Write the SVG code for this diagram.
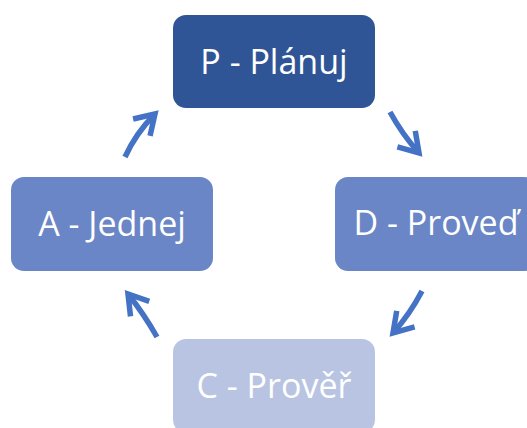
<svg xmlns="http://www.w3.org/2000/svg" width="527" height="428" viewBox="0 0 527 428">
  <style>
    .box { stroke: none; }
    .lbl { font-family: "Open Sans", "Noto Sans", sans-serif; font-size: 34px; fill: #ffffff; text-anchor: middle; }
    .arrow { fill: none; stroke: #4472C4; stroke-width: 5.5; }
  </style>
  <defs>
    <marker id="chevron" viewBox="0 0 26 26" refX="22" refY="13" markerWidth="26" markerHeight="26" markerUnits="userSpaceOnUse" orient="auto" overflow="visible">
      <path d="M3,1 L22,13 L3,25" fill="none" stroke="#4472C4" stroke-width="5.5" stroke-linejoin="miter"/>
    </marker>
  </defs>

  <rect width="527" height="428" fill="#ffffff"/>

  <g id="node-plan">
    <rect class="box" x="173" y="15" width="202" height="93" rx="13" fill="#2F5597"/>
    <text class="lbl" x="274" y="74">P - Plánuj</text>
  </g>

  <g id="node-do">
    <rect class="box" x="335" y="177" width="202" height="94" rx="13" fill="#6A86C6"/>
    <text class="lbl" x="436" y="235">D - Proveď</text>
  </g>

  <g id="node-check">
    <rect class="box" x="173" y="339" width="202" height="94" rx="13" fill="#B8C4E2"/>
    <text class="lbl" x="274" y="398">C - Prověř</text>
  </g>

  <g id="node-act">
    <rect class="box" x="11" y="177" width="202" height="94" rx="13" fill="#6A86C6"/>
    <text class="lbl" x="112" y="236">A - Jednej</text>
  </g>

  <g id="connectors">
    <path class="arrow" d="M125,157 Q136,133 155,114" marker-end="url(#chevron)"/>
    <path class="arrow" d="M390,112 Q402,134 419,153" marker-end="url(#chevron)"/>
    <path class="arrow" d="M422,291 Q410,314 393,333" marker-end="url(#chevron)"/>
    <path class="arrow" d="M157,337 Q144,314 128,294" marker-end="url(#chevron)"/>
  </g>
</svg>
